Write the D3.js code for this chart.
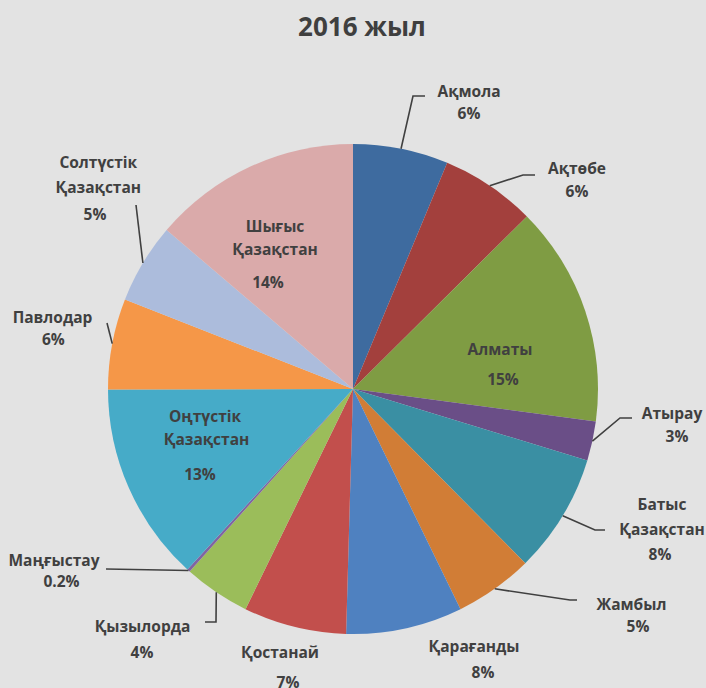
<!DOCTYPE html>
<html>
<head>
<meta charset="utf-8">
<script src="https://cdn.jsdelivr.net/npm/d3@7"></script>
<style>
  html, body { margin: 0; padding: 0; background: #e3e3e3; }
  svg { display: block; }
  text { font-family: "Open Sans", "Noto Sans", sans-serif; font-weight: 700; fill: #404040; }
</style>
</head>
<body>
<svg id="chart" width="706" height="688"></svg>
<script>
// Regional shares, 2016 (percent), clockwise from 12 o'clock
const regions = [
  "Ақмола", "Ақтөбе", "Алматы", "Атырау", "Батыс Қазақстан", "Жамбыл",
  "Қарағанды", "Қостанай", "Қызылорда", "Маңғыстау", "Оңтүстік Қазақстан",
  "Павлодар", "Солтүстік Қазақстан", "Шығыс Қазақстан"
];
const shares = [6.3, 6.3, 14.6, 2.6, 7.9, 5.2, 7.7, 6.8, 4.4, 0.2, 13.2, 6.0, 5.3, 13.8];
const sliceColors = [
  "#3e6b9f", "#a3403d", "#7f9c43", "#6a4e87", "#3a8fa3", "#d17d36",
  "#4f81c0", "#c24f4c", "#9bbd5a", "#8064a2", "#46abc8", "#f59748",
  "#acbcdc", "#daaaaa"
];
const title = "2016 жыл";

// Label placement: text lines (name lines + value), centre x per line, baselines,
// and leader path after it leaves the slice edge.
const labelLayout = [
  { lines: ["Ақмола"], xs: [469, 469], ys: [96.7, 119], leader: [[413, 96], [425, 96]] },
  { lines: ["Ақтөбе"], xs: [577, 577], ys: [174, 196.7], leader: [[523, 175], [535, 175]] },
  { lines: ["Алматы"], xs: [500, 503], ys: [355, 385], leader: null },
  { lines: ["Атырау"], xs: [672, 677], ys: [419.3, 441.7], leader: [[620, 418], [632, 418]] },
  { lines: ["Батыс", "Қазақстан"], xs: [662, 662, 660], ys: [510, 535, 560], leader: [[595, 530], [605, 530]] },
  { lines: ["Жамбыл"], xs: [631.5, 638], ys: [610, 631.7], leader: [[570, 600], [577, 600]] },
  { lines: ["Қарағанды"], xs: [474, 483], ys: [651.7, 678.3], leader: null },
  { lines: ["Қостанай"], xs: [280, 288], ys: [658.3, 688], leader: null },
  { lines: ["Қызылорда"], xs: [142.5, 142], ys: [631.7, 658.3], leader: [[216, 622], [205, 622]] },
  { lines: ["Маңғыстау"], xs: [54, 61.5], ys: [565.5, 586.7], leader: [[106, 569]] },
  { lines: ["Оңтүстік", "Қазақстан"], xs: [205, 206.5, 200], ys: [421.7, 445, 480], leader: null },
  { lines: ["Павлодар"], xs: [52.5, 53.3], ys: [323.3, 345], leader: [[107, 323]] },
  { lines: ["Солтүстік", "Қазақстан"], xs: [98.3, 98.3, 95], ys: [168.3, 192.7, 220], leader: [[136, 205]] },
  { lines: ["Шығыс", "Қазақстан"], xs: [275, 275, 268], ys: [231.7, 255, 288.3], leader: null }
];

const svg = d3.select("#chart");
const cx = 353, cy = 389, radius = 245;

const data = regions.map((name, i) => ({ name, value: shares[i], color: sliceColors[i], layout: labelLayout[i] }));

const pie = d3.pie().value(d => d.value).sort(null);
const arc = d3.arc().innerRadius(0).outerRadius(radius);
const arcs = pie(data);

const g = svg.append("g").attr("transform", `translate(${cx},${cy})`);

g.selectAll("path.slice")
  .data(arcs)
  .join("path")
  .attr("class", "slice")
  .attr("d", arc)
  .attr("fill", d => d.data.color);

const fmt = v => (v < 1 ? d3.format(".1f")(v) : d3.format(".0f")(v)) + "%";

// Leader lines start on the rim at each slice's mid-angle
const rimPoint = d => {
  const a = (d.startAngle + d.endAngle) / 2;
  return [cx + radius * Math.sin(a), cy - radius * Math.cos(a)];
};

svg.selectAll("path.leader")
  .data(arcs.filter(d => d.data.layout.leader))
  .join("path")
  .attr("class", "leader")
  .attr("d", d => d3.line()([rimPoint(d), ...d.data.layout.leader]))
  .attr("fill", "none")
  .attr("stroke", "#404040")
  .attr("stroke-width", 1.6);

const labels = svg.selectAll("g.label")
  .data(arcs)
  .join("g")
  .attr("class", "label");

labels.each(function (d) {
  const L = d.data.layout;
  const lines = [...L.lines, fmt(d.data.value)];
  d3.select(this).selectAll("text")
    .data(lines)
    .join("text")
    .attr("x", (t, i) => L.xs[i])
    .attr("y", (t, i) => L.ys[i])
    .attr("text-anchor", "middle")
    .attr("font-size", 15.5)
    .text(t => t);
});

svg.append("text")
  .attr("x", 362)
  .attr("y", 36)
  .attr("text-anchor", "middle")
  .attr("font-size", 26)
  .style("fill", "#3f3f3f")
  .text(title);
</script>
</body>
</html>
